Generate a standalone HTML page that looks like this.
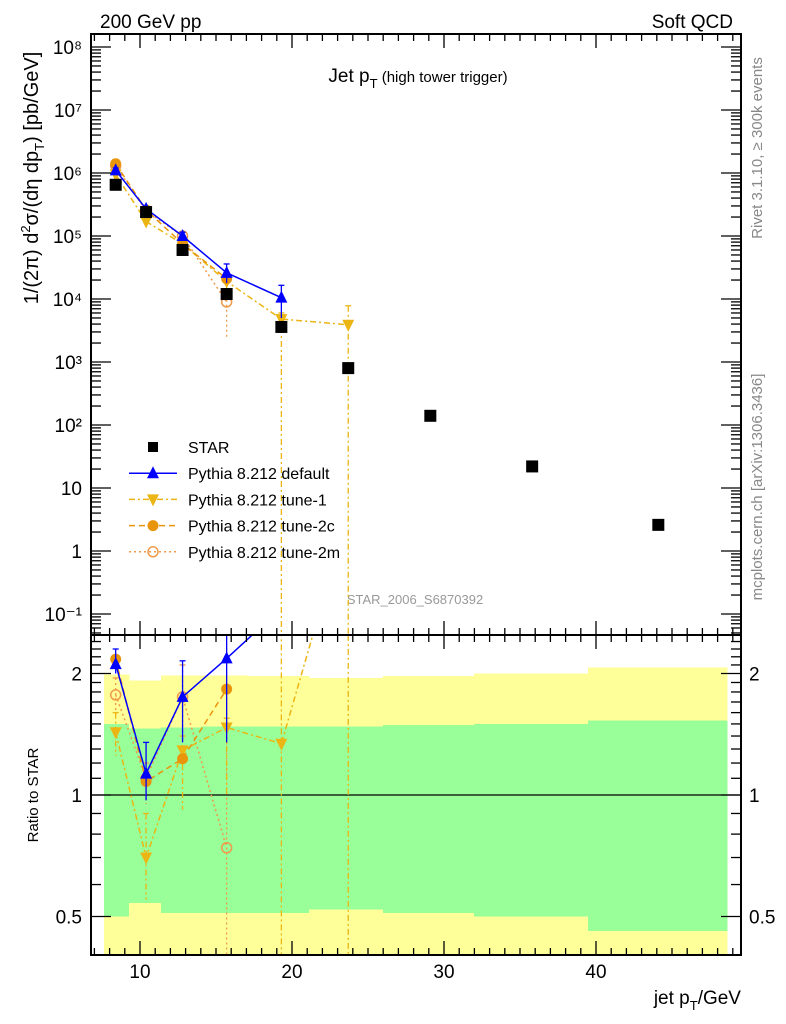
<!DOCTYPE html>
<html><head><meta charset="utf-8"><style>
html,body{margin:0;padding:0;background:#fff;width:786px;height:1024px;overflow:hidden;}
svg{display:block;font-family:"Liberation Sans",sans-serif;overflow:hidden;}
</style></head><body>
<svg id="c" width="786" height="1024" xmlns="http://www.w3.org/2000/svg">
<text x="100" y="28" font-size="19">200 GeV pp</text>
<text x="733" y="28" font-size="19" text-anchor="end">Soft QCD</text>
<text x="418" y="82" font-size="19" text-anchor="middle">Jet p<tspan font-size="13" dy="6">T</tspan><tspan font-size="15" dy="-6"> (high tower trigger)</tspan></text>
<text transform="translate(38,178) rotate(-90)" font-size="20" text-anchor="middle">1/(2π) d<tspan font-size="13" dy="-8">2</tspan><tspan dy="8">σ/(dη dp</tspan><tspan font-size="13" dy="6">T</tspan><tspan dy="-6">) [pb/GeV]</tspan></text>
<text transform="translate(762,148) rotate(-90)" font-size="15" fill="#888" text-anchor="middle">Rivet 3.1.10, ≥ 300k events</text>
<text transform="translate(762,487) rotate(-90)" font-size="15" fill="#888" text-anchor="middle">mcplots.cern.ch [arXiv:1306.3436]</text>
<text x="415" y="604" font-size="13" fill="#999" text-anchor="middle">STAR_2006_S6870392</text>
<text transform="translate(38,795) rotate(-90)" font-size="15" text-anchor="middle">Ratio to STAR</text>
<text x="741" y="1004" font-size="19" text-anchor="end">jet p<tspan font-size="13" dy="6">T</tspan><tspan dy="-6">/GeV</tspan></text>
<g id="ratio"></g>
<g id="main"></g>
<g id="axes"></g>
<g id="legend"></g>
</svg>
<script>
const xCenters=[8.4,10.4,12.8,15.7,19.3,23.7,29.1,35.8,44.1];
const binEdges=[7.6,9.3,11.4,14.0,17.1,21.1,26.0,32.0,39.5,48.6];
const starVals=[6.5e5,2.4e5,6e4,1.2e4,3.6e3,800,140,22,2.6];
const bandYellowTop=[1.99,1.92,1.98,1.98,1.97,1.95,1.97,2.0,2.07];
const bandGreenTop=[1.50,1.46,1.47,1.48,1.48,1.48,1.49,1.50,1.53];
const bandGreenBot=[0.50,0.54,0.51,0.51,0.51,0.52,0.51,0.50,0.46];
const defVals=[1.1e6,2.7e5,1.0e5,2.6e4,1.05e4];
const defUp=[1.2e6,2.9e5,1.15e5,3.6e4,1.65e4];
const defDn=[1.0e6,2.5e5,9e4,1.8e4,5e3];
const t1Vals=[9.5e5,1.7e5,7.5e4,1.9e4,4.8e3,3.9e3];
const t1Up=[1.05e6,2.0e5,9e4,2.6e4,6e3,7.8e3];
const t1Dn=[8.5e5,1.4e5,6e4,1.4e4,1e-3,1e-3];
const t2cVals=[1.4e6,2.6e5,7.5e4,2.1e4];
const t2mVals=[1.3e6,2.5e5,1.0e5,9e3];
const t2mUp=[1.4e6,2.8e5,1.15e5,1.4e4];
const t2mDn=[1.2e6,2.2e5,8.5e4,2.5e3];
const defRatio=[2.11,1.13,1.75,2.18,2.9];
const defRatioUp=[2.3,1.35,2.15,2.6,3];
const defRatioDn=[2.0,0.97,1.35,1.35,2.6];
const t1Ratio=[1.43,0.70,1.29,1.47,1.34,5];
const t1RatioUp=[1.6,0.9,1.4,1.55,3,6];
const t1RatioDn=[1.25,0.55,0.92,1.0,0.01,0.01];
const t2cRatio=[2.17,1.08,1.23,1.83];
const t2mRatio=[1.77,1.1,1.75,0.74];
const t2mRatioUp=[1.95,1.2,2.1,2.6];
const t2mRatioDn=[1.55,0.95,1.4,0.01];
const yTickLabels=["10⁻¹","1","10","10²","10³","10⁴","10⁵","10⁶","10⁷","10⁸"];
const ratioTicks=[0.5,1,2];

const NS="http://www.w3.org/2000/svg";
const L=91,R=741,T=34,MB=635,RB=955;
const X=v=>140+(v-10)*15.2;
const Y=v=>47+(8-Math.log10(v))*63;
const RY=r=>795-Math.log2(r)*121.5;
function mk(p,tag,a){const e=document.createElementNS(NS,tag);for(const k in a)e.setAttribute(k,a[k]);p.appendChild(e);return e;}
const main=document.getElementById('main'),ratio=document.getElementById('ratio'),axes=document.getElementById('axes'),leg=document.getElementById('legend');
const clipM=mk(main,'clipPath',{id:'cm'});mk(clipM,'rect',{x:L,y:T,width:R-L,height:MB-T});
const clipR=mk(ratio,'clipPath',{id:'cr'});mk(clipR,'rect',{x:L,y:MB,width:R-L,height:RB-MB});
const rg=mk(ratio,'g',{'clip-path':'url(#cr)','shape-rendering':'crispEdges'});
for(let i=0;i<xCenters.length;i++){
  const x0=Math.round(X(binEdges[i])),x1=Math.round(X(binEdges[i+1]));
  const y=mk(rg,'rect',{x:x0,y:RY(bandYellowTop[i]),width:x1-x0+0.5,height:RB-RY(bandYellowTop[i]),fill:'#ffff99'});
  
  
  const g=mk(rg,'rect',{x:x0,y:RY(bandGreenTop[i]),width:x1-x0+0.5,height:RY(bandGreenBot[i])-RY(bandGreenTop[i]),fill:'#99ff99'});
  
  
}
mk(ratio,'line',{x1:L,x2:R,y1:RY(1),y2:RY(1),stroke:'#000','stroke-width':1.3});
function marker(p,type,x,y,col){
  let e;
  if(type==='sq')e=mk(p,'rect',{x:x-6,y:y-6,width:12,height:12,fill:col});
  else if(type==='up')e=mk(p,'polygon',{points:`${x},${y-7} ${x-6},${y+5} ${x+6},${y+5}`,fill:col});
  else if(type==='dn')e=mk(p,'polygon',{points:`${x},${y+7} ${x-6},${y-5} ${x+6},${y-5}`,fill:col});
  else if(type==='fc')e=mk(p,'circle',{cx:x,cy:y,r:5.5,fill:col});
  else e=mk(p,'circle',{cx:x,cy:y,r:5,fill:'none',stroke:col,'stroke-width':1.5});
  return e;
}
function series(p,xs,vals,up,dn,yf,col,dash,type,name,noLine,yMin,yMax){
  const g=mk(p,'g',{});
  
  
  const cl=y=>Math.max(yMin,Math.min(yMax,y));
  if(!noLine){const pts=vals.map((v,i)=>X(xs[i])+','+cl(yf(v))).join(' ');
    mk(g,'polyline',{points:pts,fill:'none',stroke:col,'stroke-width':1.5,'stroke-dasharray':dash});}
  vals.forEach((v,i)=>{
    const x=X(xs[i]);
    if(up){const y1=cl(yf(up[i])),y2=cl(yf(dn[i]));
      mk(g,'line',{x1:x,x2:x,y1:y1,y2:y2,stroke:col,'stroke-width':1.3,'stroke-dasharray':dash});
      mk(g,'line',{x1:x-3,x2:x+3,y1:y1,y2:y1,stroke:col,'stroke-width':1.3});}
    const yy=yf(v);
    if(yy<yMin||yy>yMax)return;
    const m=marker(g,type,x,yy,col);
    
    
  });
}
const C1='#ebb513',C2='#e8950c',C3='#ee9a4a',CB='#0000ff';
const mg=mk(main,'g',{'clip-path':'url(#cm)'});
series(mg,xCenters,t2mVals,t2mUp,t2mDn,Y,C3,'2,3','oc','tune-2m-series',false,T-20,MB);
series(mg,xCenters,t1Vals,t1Up,t1Dn,Y,C1,'6,3,2,3','dn','tune-1-series',false,T-20,MB);
series(mg,xCenters,t2cVals,null,null,Y,C2,'6,4','fc','tune-2c-series',false,T-20,MB);
series(mg,xCenters,defVals,defUp,defDn,Y,CB,'','up','default-series',false,T-20,MB);
series(mg,xCenters,starVals,null,null,Y,'#000','','sq','star-series',true,T-20,MB);
const rs=mk(ratio,'g',{'clip-path':'url(#cr)'});
series(rs,xCenters,t2mRatio,t2mRatioUp,t2mRatioDn,RY,C3,'2,3','oc','tune-2m-ratio',false,MB-400,RB);
series(rs,xCenters,t1Ratio,t1RatioUp,t1RatioDn,RY,C1,'6,3,2,3','dn','tune-1-ratio',false,MB-400,RB);
series(rs,xCenters,t2cRatio,null,null,RY,C2,'6,4','fc','tune-2c-ratio',false,MB-400,RB);
series(rs,xCenters,defRatio,defRatioUp,defRatioDn,RY,CB,'','up','default-ratio',false,MB-400,RB);
mk(axes,'rect',{x:L,y:T,width:R-L,height:RB-T,fill:'none',stroke:'#000','stroke-width':2});
mk(axes,'line',{x1:L,x2:R,y1:MB,y2:MB,stroke:'#000','stroke-width':2});
for(let v=7;v<=49;v++){
  const x=X(v),big=v%10===0,len=big?14:7;
  [T,MB].forEach(y0=>mk(axes,'line',{x1:x,x2:x,y1:y0,y2:y0+len,stroke:'#000','stroke-width':1.3}));
  [MB,RB].forEach(y0=>mk(axes,'line',{x1:x,x2:x,y1:y0,y2:y0-len,stroke:'#000','stroke-width':1.3}));
  if(big){const t=mk(axes,'text',{x:x,y:978,'font-size':19,'text-anchor':'middle'});t.textContent=v;
    
    }
}
for(let d=-2;d<=8;d++){
  for(let k=1;k<10;k++){
    const v=k*Math.pow(10,d),y=Y(v);
    if(y<T||y>MB)continue;
    const len=k===1?20:10;
    mk(axes,'line',{x1:L,x2:L+len,y1:y,y2:y,stroke:'#000','stroke-width':1.3});
    mk(axes,'line',{x1:R,x2:R-len,y1:y,y2:y,stroke:'#000','stroke-width':1.3});
  }
  if(d>=-1){const t=mk(axes,'text',{x:82,y:Y(Math.pow(10,d))+7,'font-size':19,'text-anchor':'end'});
    t.textContent=yTickLabels[d+1];
    
    }
}
for(let v=0.4;v<=2.5;v+=0.1){
  const y=RY(v);if(y<MB||y>RB)continue;
  const big=[0.5,1,2].some(b=>Math.abs(b-v)<1e-6),len=big?20:10;
  mk(axes,'line',{x1:L,x2:L+len,y1:y,y2:y,stroke:'#000','stroke-width':1.3});
  mk(axes,'line',{x1:R,x2:R-len,y1:y,y2:y,stroke:'#000','stroke-width':1.3});
}
ratioTicks.forEach(v=>{
  const a=mk(axes,'text',{x:82,y:RY(v)+7,'font-size':19,'text-anchor':'end'});a.textContent=v;
  
  
  const b=mk(axes,'text',{x:749,y:RY(v)+7,'font-size':19});b.textContent=v;
  
  
});
const legItems=[['STAR','#000','','sq',false],['Pythia 8.212 default',CB,'','up',true],['Pythia 8.212 tune-1',C1,'6,3,2,3','dn',true],['Pythia 8.212 tune-2c',C2,'6,4','fc',true],['Pythia 8.212 tune-2m',C3,'2,3','oc',true]];
legItems.forEach((it,i)=>{
  const y=447+i*26.2;
  const g=mk(leg,'g',{});
  
  
  if(it[4])mk(g,'line',{x1:129,x2:177,y1:y,y2:y,stroke:it[1],'stroke-width':1.5,'stroke-dasharray':it[2]});
  const m=marker(g,it[3],153,y,it[1]);
  if(it[3]==='sq'){m.setAttribute('x',148);m.setAttribute('y',y-5);m.setAttribute('width',10);m.setAttribute('height',10);}
  const t=mk(g,'text',{x:188,y:y+6,'font-size':16});t.textContent=it[0];
});
</script>
</body></html>
